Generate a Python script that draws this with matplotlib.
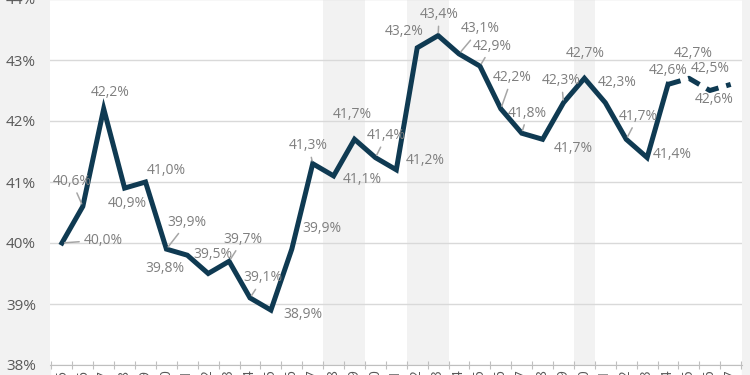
import numpy as np
import matplotlib.pyplot as plt
from matplotlib.patches import Rectangle

plt.rcParams['font.family'] = ['Open Sans', 'DejaVu Sans']

# data
years = list(range(1995, 2028))
values = [40.0, 40.6, 42.2, 40.9, 41.0, 39.9, 39.8, 39.5, 39.7, 39.1,
          38.9, 39.9, 41.3, 41.1, 41.7, 41.4, 41.2, 43.2, 43.4, 43.1,
          42.9, 42.2, 41.8, 41.7, 42.3, 42.7, 42.3, 41.7, 41.4, 42.6,
          42.7, 42.5, 42.6]
last_actual = 2024
shaded_years = [2008, 2009, 2012, 2013, 2020]
yticks = [38, 39, 40, 41, 42, 43, 44]

# label placement (offset pixels from point) and leader-line flags
label_off = [(41, 3), (-11, 25), (6, 16), (3, -15), (21, 11), (21, 27),
             (-22, -13), (5, 19), (14, 22), (13, 20), (32, -4), (30, 21),
             (-4, 18), (29, -4), (-2, 25), (11, 22), (29, 9), (-13, 16),
             (1, 21), (21, 25), (12, 20), (11, 31), (6, 20), (31, -9),
             (-2, 22), (1, 25), (12, 20), (12, 23), (25, 3), (0, 14),
             (4, 25), (0, 22), (-17, -15)]
leaders = {0, 1, 5, 8, 9, 12, 15, 18, 19, 20, 21, 22, 24, 27}

LINE = "#0f3a52"
GRAY_TXT = "#7f7f7f"
PANEL = "#f2f2f2"

x = np.arange(len(years))
vals = np.array(values)
k = years.index(last_actual)

fig = plt.figure(figsize=(7.5, 3.75), dpi=100, facecolor="white")
# grey side panels
fig.patches.append(Rectangle((0, 0), 50 / 750, 1, transform=fig.transFigure,
                             color=PANEL, zorder=-10))
fig.patches.append(Rectangle((742 / 750, 0), 8 / 750, 1, transform=fig.transFigure,
                             color=PANEL, zorder=-10))

ax = fig.add_axes([50 / 750, 10 / 375, 692 / 750, 366 / 375])
ax.set_facecolor("white")

for yr in shaded_years:
    i = years.index(yr)
    ax.axvspan(i - 0.5, i + 0.5, color=PANEL, lw=0, zorder=0)

ax.plot(x[:k + 1], vals[:k + 1], color=LINE, lw=3.6, solid_joinstyle="miter",
        zorder=3)
ax.plot(x[k:], vals[k:], color=LINE, lw=3.6, ls=(0, (2.6, 1.6)), zorder=3)

for i, v in enumerate(values):
    txt = f"{v:.1f}%".replace(".", ",")
    dx, dy = label_off[i]
    kw = {}
    if i in leaders:
        kw["arrowprops"] = dict(arrowstyle="-", color="#a6a6a6", lw=1.1,
                                shrinkA=1, shrinkB=2)
    ax.annotate(txt, (x[i], v), xytext=(dx, dy), textcoords="offset pixels",
                ha="center", va="center", fontsize=10, color=GRAY_TXT,
                zorder=4, **kw)

ax.set_ylim(38, 44)
ax.set_xlim(-0.57, 32.54)
ax.set_yticks(yticks)
ax.set_yticklabels([f"{t}%" for t in yticks], fontsize=11, color="#595959")
ax.grid(axis="y", color="#d9d9d9", lw=1)
ax.set_axisbelow(True)

ax.set_xticks(np.arange(len(years) + 1) - 0.5)
ax.set_xticklabels([])
ax.set_xticks(x, minor=True)
ax.set_xticklabels([str(y) for y in years], minor=True, rotation=90,
                   fontsize=10, color="#595959")
ax.tick_params(axis="x", which="major", direction="inout", length=6,
               color="#bfbfbf")
ax.tick_params(axis="x", which="minor", length=0, pad=3)
ax.tick_params(axis="y", length=0, pad=10)

for s in ["top", "right", "left"]:
    ax.spines[s].set_visible(False)
ax.spines["bottom"].set_color("#bfbfbf")

fig.savefig("out.png", dpi=100, facecolor=fig.get_facecolor())
